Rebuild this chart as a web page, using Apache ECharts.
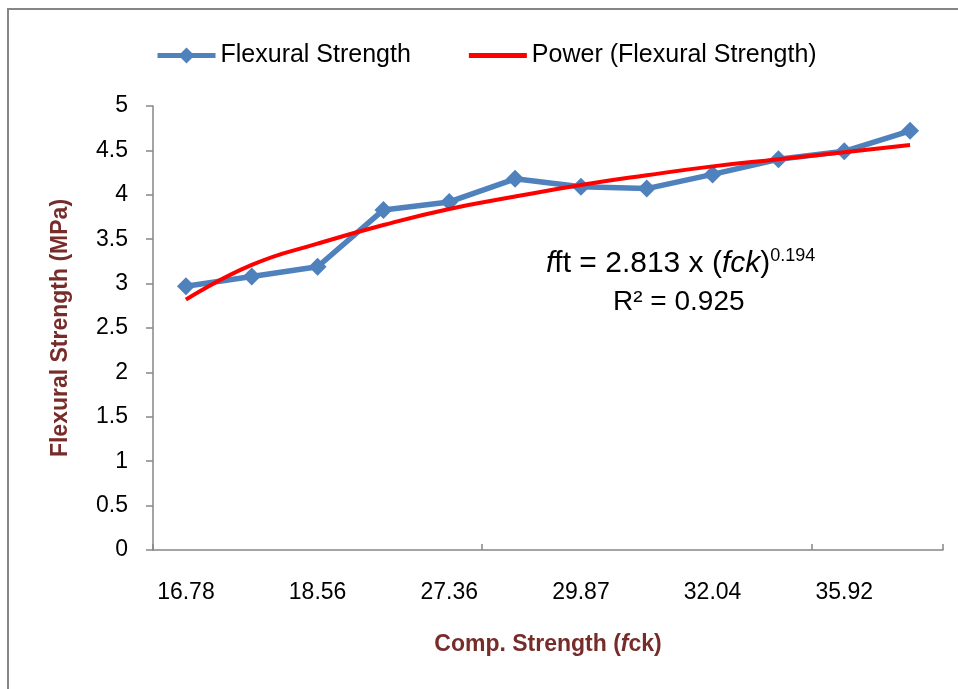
<!DOCTYPE html>
<html>
<head>
<meta charset="utf-8">
<script src="https://cdn.jsdelivr.net/npm/echarts@6/dist/echarts.min.js"></script>
<style>
  html, body { margin: 0; padding: 0; background: #fff; }
  #chart { width: 958px; height: 689px; }
</style>
</head>
<body>
<div id="chart"></div>
<script>
// x categories (odd ones are hidden in the picture, estimated)
var categories = ['16.78', '17.63', '18.56', '25.40', '27.36', '28.44', '29.87', '30.96', '32.04', '33.87', '35.92', '37.28'];
// measured flexural strength
var flexural = [2.97, 3.08, 3.19, 3.83, 3.92, 4.18, 4.09, 4.07, 4.23, 4.40, 4.49, 4.72];
// power trendline
var powerTrend = [2.82, 3.21, 3.45, 3.66, 3.84, 3.98, 4.11, 4.22, 4.32, 4.40, 4.48, 4.56];

var FONT = 'Liberation Sans';
var axisColor = '#868686';
var titleColor = '#772c2a';

var myChart = echarts.init(document.getElementById('chart'));

var option = {
    animation: false,
    textStyle: { fontFamily: FONT },
    legend: {
        left: 150,
        top: 38,
        itemWidth: 58,
        itemHeight: 20,
        itemGap: 58,
        textStyle: { fontSize: 25, color: '#000', fontFamily: FONT },
        data: [
            { name: 'Flexural Strength', lineStyle: { width: 5 } },
            { name: 'Power (Flexural Strength)', icon: 'path://M0,0H60V5H0Z' }
        ]
    },
    grid: {
        left: 153,
        top: 106,
        right: 15,
        bottom: 139,
        containLabel: false
    },
    xAxis: {
        type: 'category',
        data: categories,
        boundaryGap: true,
        name: 'Comp. Strength ({i|f}ck)',
        nameLocation: 'middle',
        nameGap: 83,
        nameTextStyle: {
            fontSize: 23,
            fontWeight: 'bold',
            color: titleColor,
            fontFamily: FONT,
            rich: {
                i: { fontSize: 23, fontWeight: 'bold', fontStyle: 'italic', color: titleColor, fontFamily: FONT }
            }
        },
        axisLine: { lineStyle: { color: axisColor, width: 1.5 } },
        axisTick: { show: true, inside: true, length: 6, interval: 4, lineStyle: { color: axisColor, width: 1.5 } },
        axisLabel: { interval: 1, fontSize: 23, color: '#000', margin: 31 },
        splitLine: { show: false }
    },
    yAxis: {
        type: 'value',
        min: 0,
        max: 5,
        interval: 0.5,
        name: 'Flexural Strength (MPa)',
        nameLocation: 'middle',
        nameGap: 81,
        nameTextStyle: { fontSize: 23, fontWeight: 'bold', color: titleColor, fontFamily: FONT },
        axisLine: { show: true, lineStyle: { color: axisColor, width: 1.5 } },
        axisTick: { show: true, length: 7, lineStyle: { color: axisColor, width: 1.5 } },
        axisLabel: { fontSize: 23, color: '#000', margin: 25 },
        splitLine: { show: false }
    },
    series: [
        {
            name: 'Flexural Strength',
            type: 'line',
            data: flexural,
            symbol: 'diamond',
            symbolSize: 18,
            itemStyle: { color: '#4f81bd' },
            lineStyle: { color: '#4f81bd', width: 5.5 },
            z: 2
        },
        {
            name: 'Power (Flexural Strength)',
            type: 'line',
            data: powerTrend,
            smooth: true,
            symbol: 'none',
            itemStyle: { color: '#ff0000' },
            lineStyle: { color: '#ff0000', width: 4 },
            z: 3
        }
    ],
    graphic: [
        {
            type: 'rect',
            shape: { x: 8, y: 9, width: 960, height: 700 },
            style: { fill: 'none', stroke: axisColor, lineWidth: 2 },
            silent: true
        },
        {
            type: 'text',
            left: 546,
            top: 247,
            style: {
                text: '{i|f}ft = 2.813 x ({i|fck}){s|0.194}',
                fontSize: 30,
                fontFamily: FONT,
                fill: '#000',
                rich: {
                    i: { fontSize: 30, fontStyle: 'italic', fontFamily: FONT },
                    s: { fontSize: 18, fontFamily: FONT, verticalAlign: 'top', padding: [0, 0, 16, 0] }
                }
            }
        },
        {
            type: 'text',
            left: 613,
            top: 288,
            style: {
                text: 'R² = 0.925',
                fontSize: 28,
                fontFamily: FONT,
                fill: '#000'
            }
        }
    ]
};

myChart.setOption(option);
window.addEventListener('resize', function () {
    myChart.resize();
});
</script>
</body>
</html>
